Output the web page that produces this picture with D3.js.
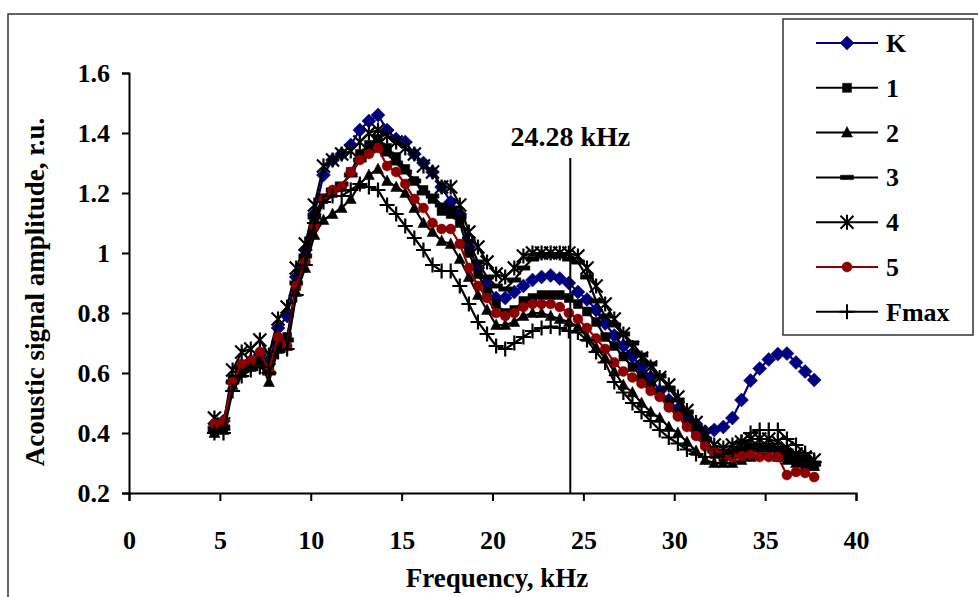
<!DOCTYPE html>
<html>
<head>
<meta charset="utf-8">
<script src="https://cdn.jsdelivr.net/npm/d3@7"></script>
<style>
  body { margin: 0; background: #fff; }
  text { font-family: "Liberation Serif", "Times New Roman", serif; font-weight: bold; }
</style>
</head>
<body>
<svg id="chart" width="978" height="597"></svg>
<script>
// frequency grid, kHz
const freq = [4.7, 5.2, 5.7, 6.2, 6.7, 7.2, 7.7, 8.2, 8.7, 9.2,
  9.7, 10.2, 10.7, 11.2, 11.7, 12.2, 12.7, 13.2, 13.7, 14.2,
  14.7, 15.2, 15.7, 16.2, 16.7, 17.2, 17.7, 18.2, 18.7, 19.2,
  19.7, 20.2, 20.7, 21.2, 21.7, 22.2, 22.7, 23.2, 23.7, 24.2,
  24.7, 25.2, 25.7, 26.2, 26.7, 27.2, 27.7, 28.2, 28.7, 29.2,
  29.7, 30.2, 30.7, 31.2, 31.7, 32.2, 32.7, 33.2, 33.7, 34.2,
  34.7, 35.2, 35.7, 36.2, 36.7, 37.2, 37.7];

const serK = [0.42, 0.44, 0.57, 0.62, 0.64, 0.66, 0.63, 0.75, 0.79, 0.92,
  1.01, 1.13, 1.26, 1.31, 1.33, 1.36, 1.41, 1.44, 1.46, 1.41,
  1.38, 1.37, 1.33, 1.30, 1.27, 1.22, 1.17, 1.13, 1.02, 0.95,
  0.90, 0.85, 0.85, 0.87, 0.89, 0.91, 0.92, 0.925, 0.915, 0.90,
  0.87, 0.845, 0.81, 0.765, 0.725, 0.69, 0.655, 0.62, 0.585, 0.54,
  0.51, 0.48, 0.45, 0.43, 0.405, 0.41, 0.42, 0.45, 0.51, 0.575,
  0.615, 0.645, 0.663, 0.665, 0.635, 0.605, 0.577];

const ser1 = [0.41, 0.42, 0.58, 0.61, 0.63, 0.65, 0.62, 0.70, 0.72, 0.89,
  0.98, 1.11, 1.18, 1.20, 1.22, 1.27, 1.33, 1.36, 1.38, 1.35,
  1.32, 1.28, 1.24, 1.21, 1.18, 1.14, 1.13, 1.10, 1.00, 0.93,
  0.87, 0.83, 0.80, 0.81, 0.84, 0.85, 0.86, 0.86, 0.86, 0.85,
  0.83, 0.805, 0.77, 0.72, 0.69, 0.655, 0.62, 0.59, 0.56, 0.53,
  0.50, 0.47, 0.43, 0.40, 0.37, 0.33, 0.32, 0.33, 0.34, 0.35,
  0.35, 0.35, 0.34, 0.33, 0.31, 0.30, 0.29];

const ser2 = [0.40, 0.41, 0.56, 0.60, 0.62, 0.64, 0.57, 0.68, 0.69, 0.87,
  0.95, 1.06, 1.11, 1.13, 1.15, 1.18, 1.23, 1.26, 1.28, 1.24,
  1.22, 1.20, 1.15, 1.10, 1.07, 1.04, 1.03, 0.98, 0.92, 0.86,
  0.81, 0.76, 0.76, 0.77, 0.79, 0.80, 0.80, 0.79, 0.78, 0.77,
  0.755, 0.72, 0.685, 0.65, 0.605, 0.56, 0.535, 0.50, 0.47, 0.45,
  0.42, 0.40, 0.37, 0.34, 0.31, 0.30, 0.30, 0.30, 0.31, 0.32,
  0.33, 0.33, 0.32, 0.31, 0.30, 0.29, 0.29];

const ser3 = [0.41, 0.42, 0.57, 0.61, 0.62, 0.64, 0.60, 0.70, 0.71, 0.90,
  0.99, 1.12, 1.19, 1.21, 1.23, 1.26, 1.31, 1.34, 1.36, 1.33,
  1.30, 1.27, 1.24, 1.20, 1.19, 1.16, 1.15, 1.12, 1.04, 0.97,
  0.92, 0.89, 0.88, 0.91, 0.95, 0.98, 0.99, 0.99, 0.99, 0.98,
  0.97, 0.92, 0.84, 0.79, 0.76, 0.73, 0.70, 0.66, 0.63, 0.59,
  0.55, 0.51, 0.47, 0.42, 0.38, 0.34, 0.33, 0.34, 0.35, 0.36,
  0.36, 0.36, 0.35, 0.34, 0.32, 0.31, 0.30];

const ser4 = [0.45, 0.43, 0.61, 0.67, 0.68, 0.71, 0.66, 0.78, 0.82, 0.95,
  1.03, 1.16, 1.29, 1.31, 1.33, 1.34, 1.37, 1.40, 1.41, 1.39,
  1.37, 1.35, 1.33, 1.29, 1.27, 1.22, 1.22, 1.16, 1.07, 1.02,
  0.97, 0.93, 0.92, 0.95, 0.99, 1.00, 1.00, 1.00, 1.00, 1.00,
  0.99, 0.95, 0.89, 0.83, 0.78, 0.73, 0.685, 0.65, 0.62, 0.585,
  0.56, 0.52, 0.475, 0.435, 0.40, 0.36, 0.35, 0.36, 0.37, 0.38,
  0.38, 0.38, 0.37, 0.35, 0.33, 0.32, 0.31];

const ser5 = [0.43, 0.44, 0.57, 0.63, 0.64, 0.67, 0.61, 0.72, 0.69, 0.89,
  0.97, 1.09, 1.18, 1.21, 1.22, 1.27, 1.31, 1.33, 1.35, 1.29,
  1.27, 1.23, 1.18, 1.15, 1.10, 1.08, 1.08, 1.03, 0.95, 0.89,
  0.85, 0.80, 0.79, 0.80, 0.82, 0.83, 0.83, 0.83, 0.82, 0.80,
  0.78, 0.75, 0.715, 0.68, 0.635, 0.605, 0.585, 0.565, 0.54, 0.52,
  0.485, 0.455, 0.42, 0.39, 0.355, 0.335, 0.327, 0.318, 0.323, 0.327,
  0.32, 0.32, 0.32, 0.26, 0.27, 0.267, 0.253];

const serFmax = [0.40, 0.40, 0.54, 0.59, 0.61, 0.62, 0.60, 0.67, 0.68, 0.86,
  0.96, 1.10, 1.17, 1.19, 1.19, 1.21, 1.23, 1.22, 1.21, 1.16,
  1.13, 1.09, 1.05, 1.01, 0.96, 0.94, 0.94, 0.89, 0.83, 0.77,
  0.73, 0.69, 0.68, 0.70, 0.72, 0.74, 0.75, 0.755, 0.75, 0.74,
  0.735, 0.71, 0.67, 0.635, 0.57, 0.535, 0.50, 0.47, 0.44, 0.41,
  0.385, 0.365, 0.345, 0.33, 0.32, 0.32, 0.33, 0.34, 0.37, 0.40,
  0.41, 0.41, 0.41, 0.38, 0.36, 0.333, 0.303];

const seriesNames = ["K", "1", "2", "3", "4", "5", "Fmax"];
const xTicks = [0, 5, 10, 15, 20, 25, 30, 35, 40];
const yTicks = [0.2, 0.4, 0.6, 0.8, 1, 1.2, 1.4, 1.6];
const markFreq = 24.28;
const markLabel = "24.28 kHz";

// marker shapes
const shapes = {
    diamond: "M0,-7L7,0L0,7L-7,0Z",
    square: "M-4.5,-4.5H4.5V4.5H-4.5Z",
    triangle: "M0,-6L5.5,4.5L-5.5,4.5Z",
    dash: "M-6.5,-2.2H6.5V2.2H-6.5Z",
    star: "M0,-7.5V7.5M-6.5,-6.5L6.5,6.5M-6.5,6.5L6.5,-6.5",
    circle: "M-5,0A5,5 0 1,0 5,0A5,5 0 1,0 -5,0Z",
    plus: "M0,-7.5V7.5M-7.5,0H7.5"
};

const series = [
    { name: "K", values: serK, color: "#000080", shape: "diamond", fill: true },
    { name: "1", values: ser1, color: "#000", shape: "square", fill: true },
    { name: "2", values: ser2, color: "#000", shape: "triangle", fill: true },
    { name: "3", values: ser3, color: "#000", shape: "dash", fill: true },
    { name: "4", values: ser4, color: "#000", shape: "star", fill: false },
    { name: "5", values: ser5, color: "#8b0000", shape: "circle", fill: true },
    { name: "Fmax", values: serFmax, color: "#000", shape: "plus", fill: false }
];

const svg = d3.select("#chart");

// outer frame
svg.append("path").attr("d", "M8,597V14H978")
    .attr("fill", "none").attr("stroke", "#333").attr("stroke-width", 1.5);

const x = d3.scaleLinear().domain([0, 40]).range([129, 856]);
const y = d3.scaleLinear().domain([0.2, 1.6]).range([493, 73]);

const xAxis = svg.append("g").attr("transform", "translate(0,493)")
    .call(d3.axisBottom(x).tickValues(xTicks).tickSize(8).tickPadding(30).tickFormat(d3.format("d")));
const yAxis = svg.append("g").attr("transform", "translate(129,0)")
    .call(d3.axisLeft(y).tickValues(yTicks).tickSize(7).tickPadding(12).tickFormat(d => String(+d.toFixed(1))));

[xAxis, yAxis].forEach(a => {
    a.select(".domain").attr("stroke", "#000").attr("stroke-width", 2);
    a.selectAll(".tick line").attr("stroke", "#000").attr("stroke-width", 2);
    a.selectAll(".tick text").attr("fill", "#000")
        .style("font-family", "'Liberation Serif', serif").style("font-weight", "bold").style("font-size", "26px");
});

// series lines + markers
const line = d3.line().x((d, i) => x(freq[i])).y(d => y(d));

series.forEach(s => {
    const g = svg.append("g");
    g.append("path").attr("d", line(s.values))
        .attr("fill", "none").attr("stroke", s.color).attr("stroke-width", 2.2);
    g.selectAll("path.m").data(s.values).enter().append("path").attr("class", "m")
        .attr("transform", (d, i) => "translate(" + x(freq[i]) + "," + y(d) + ")")
        .attr("d", shapes[s.shape])
        .attr("fill", s.fill ? s.color : "none")
        .attr("stroke", s.color)
        .attr("stroke-width", s.fill ? 0.5 : 2.2);
});

// 24.28 kHz marker line
svg.append("line").attr("x1", x(markFreq)).attr("x2", x(markFreq))
    .attr("y1", 158).attr("y2", y(0.2))
    .attr("stroke", "#000").attr("stroke-width", 2);
svg.append("text").attr("x", x(markFreq)).attr("y", 146)
    .attr("text-anchor", "middle").style("font-size", "28px").text(markLabel);

// axis titles
svg.append("text").attr("x", 497).attr("y", 587).attr("text-anchor", "middle")
    .style("font-size", "27px").text("Frequency, kHz");
svg.append("text").attr("transform", "translate(44,292) rotate(-90)").attr("text-anchor", "middle")
    .style("font-size", "27px").text("Acoustic signal amplitude, r.u.");

// legend
const lg = svg.append("g");
lg.append("rect").attr("x", 783).attr("y", 19).attr("width", 190).attr("height", 316)
    .attr("fill", "#fff").attr("stroke", "#333").attr("stroke-width", 1.5);
series.forEach((s, i) => {
    const ly = 43 + i * 44.8;
    lg.append("line").attr("x1", 816).attr("x2", 878).attr("y1", ly).attr("y2", ly)
        .attr("stroke", s.color).attr("stroke-width", 2);
    lg.append("path").attr("transform", "translate(847," + ly + ")")
        .attr("d", shapes[s.shape])
        .attr("fill", s.fill ? s.color : "none")
        .attr("stroke", s.color)
        .attr("stroke-width", s.fill ? 0.5 : 2);
    lg.append("text").attr("x", 886).attr("y", ly + 9).style("font-size", "26px").text(seriesNames[i]);
});
</script>
</body>
</html>
